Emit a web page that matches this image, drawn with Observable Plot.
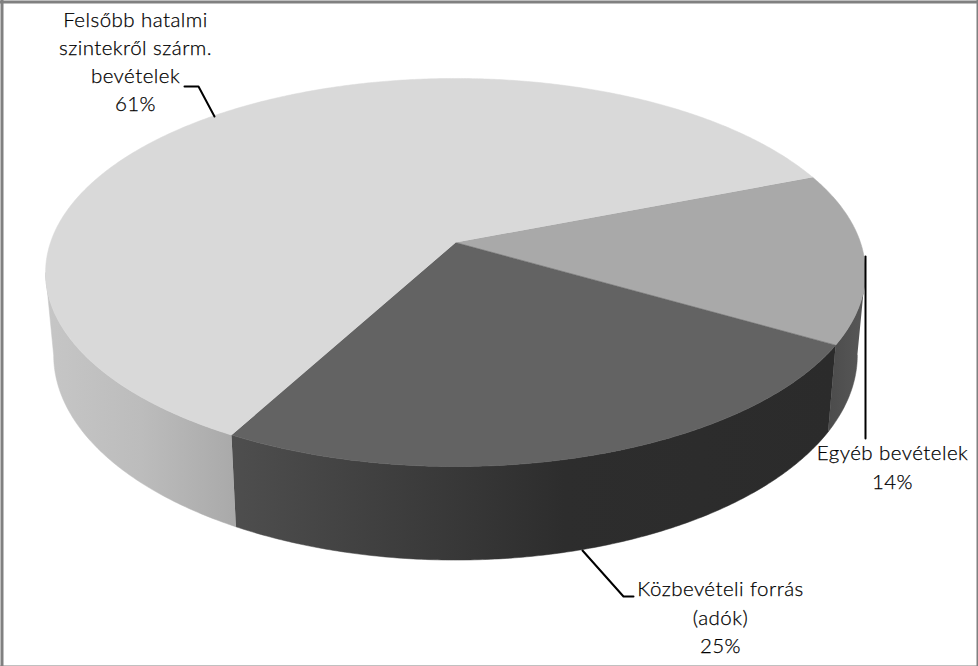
<!DOCTYPE html>
<html>
<head>
<meta charset="utf-8">
<style>html,body{margin:0;padding:0;background:#fff}svg{display:block}</style>
<script src="https://cdn.jsdelivr.net/npm/d3@7"></script>
<script src="https://cdn.jsdelivr.net/npm/@observablehq/plot@0.6"></script>
</head>
<body>
<div id="chart"></div>
<script>
const names = ["Egyéb bevételek", "Közbevételi forrás (adók)", "Felsőbb hatalmi szintekről szárm. bevételek"];
const shares = [14.25, 24.6, 61.15];
const labelTexts = ["Egyéb bevételek\n14%", "Közbevételi forrás\n(adók)\n25%", "Felsőbb hatalmi\nszintekről szárm.\nbevételek\n61%"];
const topColors = ["#a9a9a9", "#636363", "#d9d9d9"];

// pie geometry: perspective projection of the top and bottom discs
const startDeg = -21.3, persp = 0.1546;
const topDisc = {cx: 455, cy: 242, a: 405, b: 189.4};
const botDisc = {cx: 455, cy: 323, a: 397, b: 200};
const silhouetteDeg = 8.9;

const project = (deg, d) => {
  const t = deg * Math.PI / 180, u = Math.cos(t), v = Math.sin(t), w = 1 - persp * v;
  return {x: d.cx + d.a * u / w, y: d.cy + d.b * v / w};
};
const arc = (a0, a1, d) => {
  const n = Math.max(2, Math.ceil(Math.abs(a1 - a0) * 2));
  return d3.range(n + 1).map(i => project(a0 + (a1 - a0) * i / n, d));
};
let acc = startDeg;
const slices = shares.map((s, i) => {
  const a0 = acc, a1 = acc + s * 3.6; acc = a1;
  return {i, a0, a1};
});
const topFace = s => [{x: topDisc.cx, y: topDisc.cy}, ...arc(s.a0, s.a1, topDisc)];
const sideFace = (a0, a1) => [...arc(a0, a1, topDisc), ...arc(a1, a0, botDisc)];

const gradients = [
  {id: "sideR", x1: 829, x2: 866, stops: [[0, "#4c4c4c"], [1, "#585858"]]},
  {id: "sideD", x1: 232, x2: 836, stops: [[0, "#4e4e4e"], [0.25, "#3f3f3f"], [0.55, "#2d2d2d"], [1, "#2b2b2b"]]},
  {id: "sideL", x1: 45, x2: 237, stops: [[0, "#c6c6c6"], [0.5, "#bcbcbc"], [1, "#a9a9a9"]]}
];
const defs = () => {
  const g = d3.create("svg:defs");
  for (const d of gradients) {
    const lg = g.append("linearGradient").attr("id", d.id).attr("gradientUnits", "userSpaceOnUse")
      .attr("x1", d.x1).attr("x2", d.x2).attr("y1", 0).attr("y2", 0);
    for (const [o, c] of d.stops) lg.append("stop").attr("offset", o).attr("stop-color", c);
  }
  return g.node();
};

const sides = [
  {pts: sideFace(silhouetteDeg, slices[0].a1), fill: "url(#sideR)"},
  {pts: sideFace(slices[1].a0, slices[1].a1), fill: "url(#sideD)"},
  {pts: sideFace(slices[2].a0, 180 - silhouetteDeg), fill: "url(#sideL)"}
];

const leaders = [
  [{x: 865, y: 256}, {x: 865, y: 438}],
  [{x: 582, y: 550}, {x: 623, y: 596}, {x: 633, y: 596}],
  [{x: 184, y: 86}, {x: 198, y: 86}, {x: 214, y: 116}]
];
const labelPos = [{x: 892, y: 465}, {x: 720, y: 615}, {x: 135, y: 59.5}];
const labelData = labelTexts.map((text, i) => ({text, ...labelPos[i]}));
const frameColor = "#808080";

const poly = (pts, fill) => Plot.line(pts, {x: "x", y: "y", fill, stroke: fill, strokeWidth: 0.5, curve: "linear"});

const chart = Plot.plot({
  width: 978, height: 666,
  margin: 0,
  x: {domain: [0, 978], range: [0, 978], axis: null},
  y: {domain: [0, 666], range: [0, 666], axis: null},
  style: {background: "#fff", fontFamily: "Lato", letterSpacing: "0.45px"},
  marks: [
    defs,
    ...sides.map(s => poly(s.pts, s.fill)),
    ...slices.map(s => poly(topFace(s), topColors[s.i])),
    ...leaders.map(l => Plot.line(l, {x: "x", y: "y", stroke: "#000", strokeWidth: 2, curve: "linear"})),
    Plot.text(labelData, {x: "x", y: "y", text: "text", fontSize: 20.5, lineHeight: 1.38, fill: "#000", stroke: "#000", strokeWidth: 0.25, fontWeight: 300, fontFamily: "Lato"}),
    Plot.ruleX([1.5], {stroke: frameColor, strokeWidth: 3}),
    Plot.ruleX([977], {stroke: frameColor, strokeWidth: 2}),
    Plot.ruleY([1.5], {stroke: frameColor, strokeWidth: 3}),
    Plot.ruleY([665.5], {stroke: frameColor, strokeWidth: 1})
  ]
});
document.getElementById("chart").appendChild(chart);
</script>
</body>
</html>
